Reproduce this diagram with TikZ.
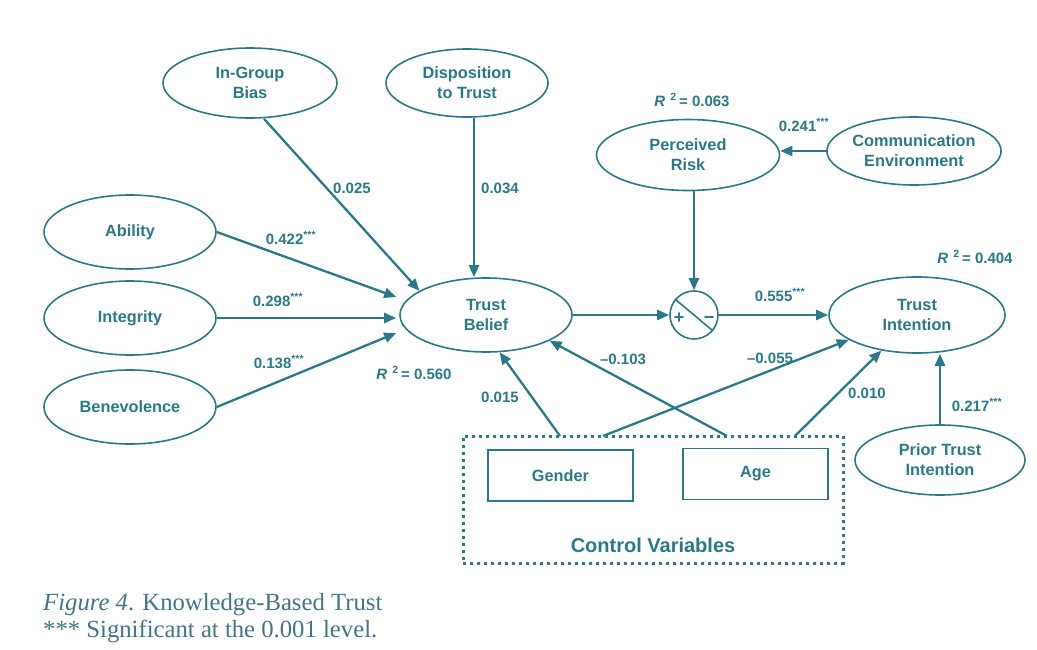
\documentclass[tikz,border=0pt]{standalone}
\usepackage{fontspec}
\setmainfont{Liberation Serif}
\setsansfont{Liberation Sans}
\usetikzlibrary{shapes.geometric,arrows.meta,calc}
\definecolor{teal1}{RGB}{40,122,138}
\definecolor{capc}{RGB}{64,118,136}

\begin{document}
\begin{tikzpicture}[x=1pt,y=-1pt,
  lat/.style={ellipse,draw=teal1,line width=1.6pt,inner sep=0pt,align=center,
    text=teal1,font=\sffamily\bfseries\fontsize{16.3}{20}\selectfont},
  obs/.style={rectangle,draw=teal1,line width=1.6pt,inner sep=0pt,
    minimum width=145pt,minimum height=51pt,
    text=teal1,font=\sffamily\bfseries\fontsize{16.3}{20}\selectfont},
  arr/.style={draw=teal1,line width=2.3pt,-{Triangle[length=12pt,width=10pt]}},
  coef/.style={text=teal1,inner sep=0pt,font=\sffamily\bfseries\fontsize{15}{17}\selectfont},
  captext/.style={text=capc,inner sep=0pt,anchor=base west,font=\rmfamily\fontsize{24.7}{27}\selectfont},
]
\useasboundingbox (0,0) rectangle (1037,650);

% latent constructs
\node[lat,minimum width=174pt,minimum height=70pt] (igb) at (250,83) {In-Group\\Bias};
\node[lat,minimum width=162pt,minimum height=68pt] (dtt) at (467,83) {Disposition\\to Trust};
\node[lat,minimum width=183pt,minimum height=71pt] (pr) at (688,155) {Perceived\\Risk};
\node[lat,minimum width=172pt,minimum height=68pt] (ce) at (914,151) {Communication\\Environment};
\node[lat,minimum width=172pt,minimum height=74pt] (ab) at (130,232) {Ability};
\node[lat,minimum width=172pt,minimum height=74pt] (in) at (130,318) {Integrity};
\node[lat,minimum width=172pt,minimum height=74pt] (be) at (130,407) {Benevolence};
\node[lat,minimum width=172pt,minimum height=74pt] (tb) at (486,315) {Trust\\Belief};
\node[lat,minimum width=176pt,minimum height=76pt] (ti) at (917,315) {Trust\\Intention};
\node[lat,minimum width=170pt,minimum height=70pt] (pti) at (940,460) {Prior Trust\\Intention};

% moderation junction
\node[circle,draw=teal1,line width=1.6pt,minimum size=48pt,inner sep=0pt] (pm) at (694,315) {};
\draw[teal1,line width=1.6pt] (pm.140) -- (pm.-40);
\node[coef,font=\sffamily\bfseries\fontsize{18}{18}\selectfont] (plus) at (679,318) {+};
\node[coef,font=\sffamily\bfseries\fontsize{18}{18}\selectfont] (minus) at (709,320) {−};

% control variables
\node[draw=teal1,line width=3pt,dash pattern=on 3pt off 4pt,inner sep=0pt,
  minimum width=380pt,minimum height=127pt] (ctrl) at (653,499.5) {};
\node[obs] (gen) at (560.5,475.5) {Gender};
\node[obs] (age) at (755.5,474) {Age};
\node[coef,font=\sffamily\bfseries\fontsize{20}{22}\selectfont] (cv) at (653,545) {Control Variables};
\coordinate (g1) at (560,436);
\coordinate (g2) at (603,436);
\coordinate (a1) at (727,436);
\coordinate (a2) at (795,436);

% structural paths
\draw[arr] ([xshift=14pt]igb.south) -- (tb.160);
\draw[arr] ([xshift=7pt]dtt.south) -- ([xshift=7pt]dtt.south |- tb.north);
\draw[arr] (ab.east) -- ([shift={(-3,-18)}]tb.west);
\draw[arr] (in.east) -- ([xshift=-3pt]in.east -| tb.west);
\draw[arr] (be.east) -- ([shift={(-3,18)}]tb.west);
\draw[arr] (tb.east) -- (pm.west);
\draw[arr] (pm.north |- pr.south) -- (pm.north);
\draw[arr] (pm.east) -- (ti.west);
\draw[arr] (ce.west) -- (ce.west -| pr.east);
\draw[arr] (pti.north) -- (pti.north |- ti.south);
\draw[arr] (g1) -- (tb.-70);
\draw[arr] (a1) -- (tb.-22);
\draw[arr] (g2) -- (ti.-160);
\draw[arr] (a2) -- (ti.-135);

% coefficients
\node[coef] (c1) at (352,188) {0.025};
\node[coef] (c2) at (500,188) {0.034};
\node[coef] (c3) at (291,238) {0.422\textsuperscript{***}};
\node[coef] (c4) at (278,300) {0.298\textsuperscript{***}};
\node[coef] (c5) at (279,362) {0.138\textsuperscript{***}};
\node[coef] (c6) at (500,397) {0.015};
\node[coef] (c7) at (623,359) {–0.103};
\node[coef] (c8) at (770,358) {–0.055};
\node[coef] (c9) at (867,393) {0.010};
\node[coef] (c10) at (780,295) {0.555\textsuperscript{***}};
\node[coef] (c11) at (977,405) {0.217\textsuperscript{***}};
\node[coef] (c12) at (804,125) {0.241\textsuperscript{***}};

% explained variance
\node[coef] (r1) at (414,373) {\itshape R\,\,\upshape\textsuperscript{2}\,= 0.560};
\node[coef] (r2) at (975,257) {\itshape R\,\,\upshape\textsuperscript{2}\,= 0.404};
\node[coef] (r3) at (692,100) {\itshape R\,\,\upshape\textsuperscript{2}\,= 0.063};

% caption
\node[captext] (cap1) at (43,610) {\textit{Figure 4}. Knowledge-Based Trust};
\node[captext] (cap2) at (43,637) {*** Significant at the 0.001 level.};
\end{tikzpicture}
\end{document}
